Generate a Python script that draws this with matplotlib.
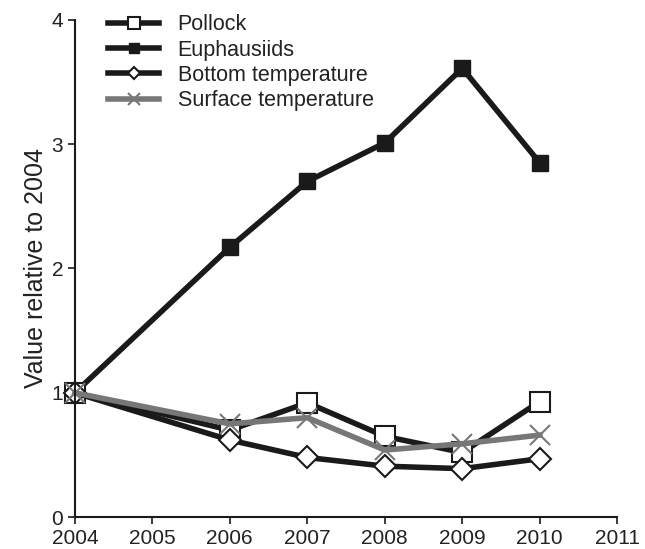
import matplotlib
matplotlib.use('Agg')
import matplotlib.pyplot as plt

plt.rcParams['font.family'] = ['Liberation Sans', 'DejaVu Sans']

# years sampled (no 2005 survey)
years = [2004, 2006, 2007, 2008, 2009, 2010]

pollock = [1.0, 0.70, 0.92, 0.65, 0.52, 0.93]
euphausiids = [1.0, 2.17, 2.70, 3.01, 3.61, 2.85]
bottom_temp = [1.0, 0.62, 0.48, 0.41, 0.39, 0.47]
surface_temp = [1.0, 0.75, 0.80, 0.54, 0.59, 0.66]

x_ticks = [2004, 2005, 2006, 2007, 2008, 2009, 2010, 2011]
y_ticks = [0, 1, 2, 3, 4]

dark = '#1a1a1a'
grey = '#777777'

fig = plt.figure(figsize=(6.45, 5.49), dpi=100)
ax = fig.add_axes([0.116, 0.058, 0.841, 0.906])

# draw order: euphausiids and pollock under the temperature lines
ax.plot(years, euphausiids, color=dark, linewidth=4, marker='s', markersize=12,
        markerfacecolor=dark, markeredgecolor=dark, label='Euphausiids', zorder=2)
ax.plot(years, pollock, color=dark, linewidth=4, marker='s', markersize=15,
        markerfacecolor='white', markeredgecolor=dark, markeredgewidth=1.5,
        label='Pollock', zorder=3)
ax.plot(years, bottom_temp, color=dark, linewidth=4, marker='D', markersize=11,
        markerfacecolor='white', markeredgecolor=dark, markeredgewidth=1.5,
        label='Bottom temperature', zorder=4)
ax.plot(years, surface_temp, color=grey, linewidth=4, marker='x', markersize=15,
        markeredgewidth=1.5, label='Surface temperature', zorder=5)

ax.set_xlim(2004, 2011)
ax.set_ylim(0, 4)
ax.set_xticks(x_ticks)
ax.set_yticks(y_ticks)
ax.tick_params(labelsize=15, direction='out', length=5, width=1.2, colors=dark,
               labelcolor='#222222')
ax.set_ylabel('Value relative to 2004', fontsize=18, color='#222222', labelpad=2)

for side in ['top', 'right']:
  ax.spines[side].set_visible(False)
for side in ['left', 'bottom']:
  ax.spines[side].set_linewidth(1.5)
  ax.spines[side].set_color(dark)
  ax.spines[side].set_zorder(10)

for line in ax.lines:
  line.set_clip_on(False)

# legend order as in the figure
handles, labels = ax.get_legend_handles_labels()
order = [1, 0, 2, 3]
leg = ax.legend([handles[i] for i in order], [labels[i] for i in order],
                loc='upper left', bbox_to_anchor=(0.025, 1.05), frameon=False,
                fontsize=15.5, handlelength=2.4, handletextpad=0.85,
                labelspacing=0.2, markerscale=0.6)
for t in leg.get_texts():
  t.set_color('#222222')

fig.savefig('out.png', dpi=100)
